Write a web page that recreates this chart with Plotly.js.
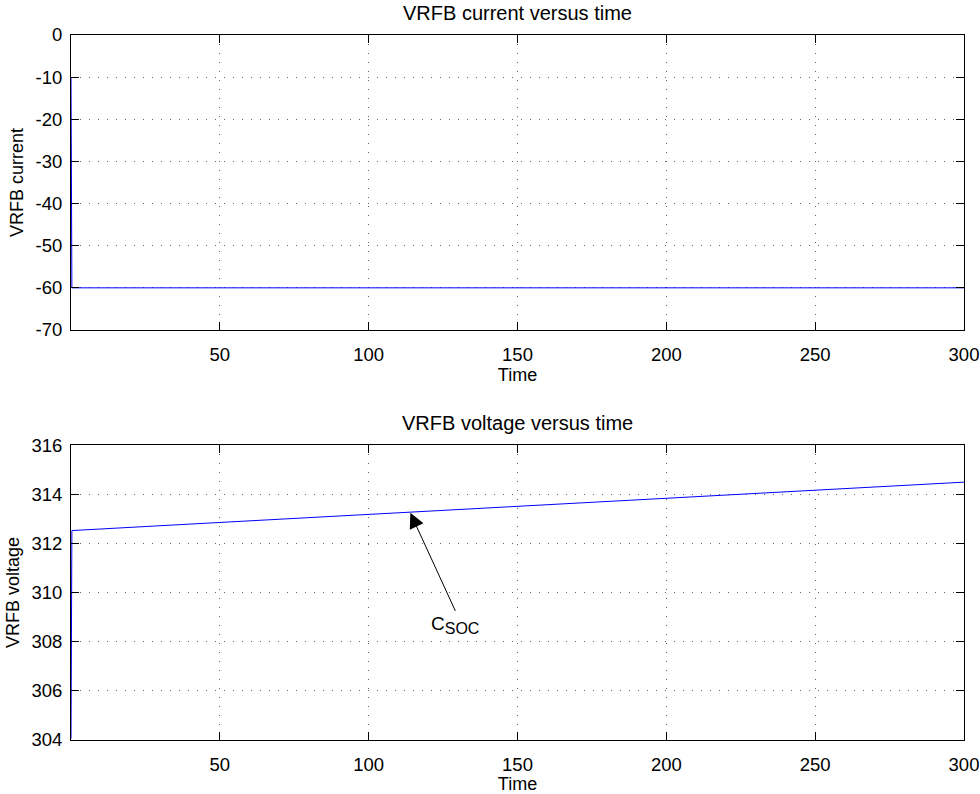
<!DOCTYPE html>
<html><head><meta charset="utf-8">
<script src="https://cdn.plot.ly/plotly-3.0.1.min.js"></script>
<style>body{margin:0;background:#fff}#chart{width:980px;height:794px}</style>
</head><body><div id="chart"></div>
<script>
// Data
const timeCurrent = [0, 0.3, 300];
const current = [-10, -60, -60];
const timeVoltage = [0, 0.3, 50, 100, 150, 200, 250, 300];
const voltage = [304.05, 312.52, 312.85, 313.18, 313.5, 313.83, 314.16, 314.49];
const xTicks = [50, 100, 150, 200, 250, 300];
const xTickText = ['50', '100', '150', '200', '250', '300'];
const yTicksCurrent = [0, -10, -20, -30, -40, -50, -60, -70];
const yTickTextCurrent = ['0', '-10', '-20', '-30', '-40', '-50', '-60', '-70'];
const yTicksVoltage = [304, 306, 308, 310, 312, 314, 316];
const yTickTextVoltage = ['304', '306', '308', '310', '312', '314', '316'];
const arrowPoint = {t: 114, v: 313.24};

const fam = 'Arial, "Liberation Sans", sans-serif';
const tickFont = {family: fam, size: 18.5, color: '#000'};
const labelFont = {family: fam, size: 18, color: '#000'};
const titleFont = {family: fam, size: 20, color: '#000'};
const axBase = {
  showline: true, linecolor: '#000', linewidth: 1, mirror: 'ticks',
  ticks: 'inside', ticklen: 8, tickcolor: '#000', tickmode: 'array',
  showgrid: true, gridcolor: '#666', griddash: '1px,8px', gridwidth: 1,
  zeroline: false, tickfont: tickFont
};
const data = [
  {x: timeCurrent, y: current, type: 'scatter', mode: 'lines', line: {color: '#0000ff', width: 1}, xaxis: 'x', yaxis: 'y', hoverinfo: 'skip'},
  {x: timeVoltage, y: voltage, type: 'scatter', mode: 'lines', line: {color: '#0000ff', width: 1}, xaxis: 'x2', yaxis: 'y2', hoverinfo: 'skip'}
];
const layout = {
  width: 980, height: 794, showlegend: false,
  paper_bgcolor: '#fff', plot_bgcolor: '#fff',
  margin: {l: 71, r: 16, t: 35, b: 54},
  font: tickFont,
  xaxis: Object.assign({}, axBase, {domain: [0, 1], range: [0, 300], tickvals: xTicks, ticktext: xTickText, anchor: 'y',
    ticklabelstandoff: 8, title: {text: 'Time', font: labelFont, standoff: 3}}),
  yaxis: Object.assign({}, axBase, {domain: [0.5816, 1], range: [-70, 0], tickvals: yTicksCurrent, ticktext: yTickTextCurrent, anchor: 'x',
    ticklabelstandoff: 4, title: {text: 'VRFB current', font: labelFont, standoff: 7}}),
  xaxis2: Object.assign({}, axBase, {domain: [0, 1], range: [0, 300], tickvals: xTicks, ticktext: xTickText, anchor: 'y2',
    ticklabelstandoff: 8, title: {text: 'Time', font: labelFont, standoff: 3}}),
  yaxis2: Object.assign({}, axBase, {domain: [0, 0.4184], range: [304, 316], tickvals: yTicksVoltage, ticktext: yTickTextVoltage, anchor: 'x2',
    ticklabelstandoff: 4, title: {text: 'VRFB voltage', font: labelFont, standoff: 7}}),
  annotations: [
    {text: 'VRFB current versus time', xref: 'paper', yref: 'paper', x: 0.5, y: 1, yshift: 9, yanchor: 'bottom', showarrow: false, font: titleFont},
    {text: 'VRFB voltage versus time', xref: 'paper', yref: 'paper', x: 0.5, y: 0.4184, yshift: 9, yanchor: 'bottom', showarrow: false, font: titleFont},
    {text: 'C<sub><span style="font-size:16px">SOC</span></sub>', xref: 'x2', yref: 'y2', x: arrowPoint.t, y: arrowPoint.v, ax: 45, ay: 98,
      showarrow: true, arrowhead: 2, arrowsize: 3, arrowwidth: 1, arrowcolor: '#000', standoff: 0,
      font: {family: fam, size: 19, color: '#000'}, xanchor: 'center', yanchor: 'top'}
  ]
};
Plotly.newPlot('chart', data, layout, {displayModeBar: false, staticPlot: true});
</script></body></html>
